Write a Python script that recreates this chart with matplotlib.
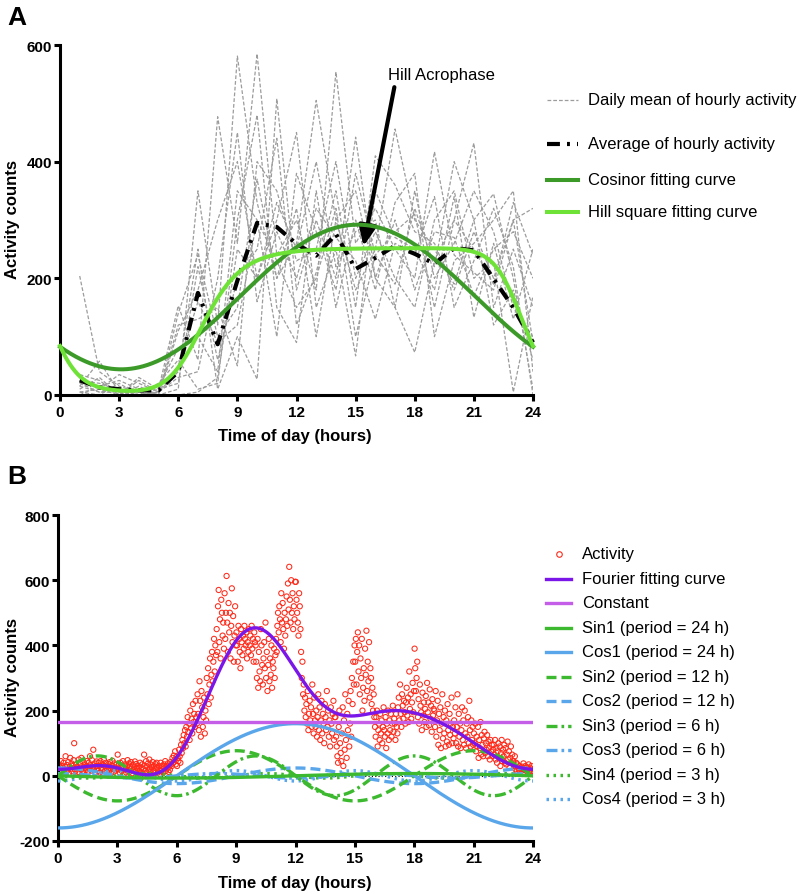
import numpy as np
import matplotlib
matplotlib.use("Agg")
import matplotlib.pyplot as plt
from matplotlib.lines import Line2D

plt.rcParams['font.family'] = ['Liberation Sans', 'DejaVu Sans']
plt.rcParams['axes.unicode_minus'] = False

# ---------------- panel A data ----------------
hours = np.arange(1, 25)

# daily mean of hourly activity, one list per day (hours 1..24)
daily_means = [
    [204, 40, 15, 5, 0, 10, 350, 120, 581, 330, 200, 260, 505, 300, 180, 250, 456, 300, 250, 190, 300, 345, 200, 10],
    [15, 58, 5, 0, 10, 153, 60, 477, 260, 585, 240, 300, 180, 554, 260, 320, 250, 200, 417, 240, 210, 180, 300, 90],
    [30, 10, 35, 20, 5, 40, 250, 10, 100, 27, 508, 180, 300, 200, 442, 200, 150, 73, 230, 300, 432, 150, 250, 150],
    [5, 0, 0, 15, 0, 110, 180, 300, 400, 200, 300, 450, 150, 250, 67, 350, 270, 250, 180, 340, 133, 260, 130, 250],
    [25, 20, 10, 0, 20, 60, 10, 20, 300, 480, 150, 90, 350, 150, 300, 180, 330, 380, 100, 230, 260, 300, 350, 40],
    [0, 15, 25, 10, 0, 120, 130, 150, 50, 400, 350, 230, 250, 400, 200, 280, 200, 150, 300, 350, 200, 230, 5, 170],
    [10, 30, 0, 30, 10, 20, 220, 60, 200, 250, 440, 120, 210, 350, 150, 410, 360, 280, 260, 180, 280, 200, 300, 320],
    [20, 5, 5, 5, 15, 80, 100, 40, 350, 300, 100, 380, 280, 180, 380, 240, 190, 320, 220, 400, 300, 120, 180, 60],
    [0, 0, 20, 0, 5, 30, 40, 200, 450, 160, 280, 200, 320, 270, 230, 130, 260, 240, 340, 150, 230, 320, 220, 0],
    [35, 25, 0, 10, 0, 140, 240, 100, 150, 370, 200, 320, 100, 300, 350, 200, 300, 180, 280, 270, 170, 250, 280, 200],
    [15, 5, 10, 0, 0, 0, 5, 30, 250, 200, 330, 250, 400, 220, 280, 300, 150, 350, 200, 260, 350, 280, 150, 100],
    [5, 10, 0, 25, 5, 50, 160, 90, 120, 300, 230, 150, 200, 320, 100, 240, 280, 310, 150, 300, 250, 190, 330, 240],
]

# average of hourly activity (hours 1..24)
hourly_average = [25, 13, 10, 8, 8, 40, 175, 87, 196, 295, 288, 259, 239, 276, 216, 235, 256, 242, 225, 252, 248, 199, 150, 90]

# cosinor fit parameters
cos_mesor, cos_amp, cos_acro = 168, 124, 15.1
# hill square fit parameters
hill_base, hill_top = 5, 252
hill_k_on, hill_n_on = 7.37, 7.7
hill_k_off, hill_n_off = 23.45, 32.6
acrophase_hill = (15.4, 255)

# ---------------- panel B data ----------------
# activity counts, 30 samples per hour (2-min bins)
act_00_06 = [
    20, 35, 10, 25, 45, 15, 30, 5, 40, 20, 28, 60, 12, 33, 18, 42, 8, 26, 55, 22, 38, 14, 30, 48, 100, 20, 15, 35, 27, 10,
    25, 50, 10, 38, 20, 55, 30, 15, 42, 8, 35, 25, 18, 45, 28, 12, 40, 22, 60, 32, 16, 48, 26, 80, 20, 38, 10, 30, 44, 22,
    15, 40, 30, 10, 45, 25, 20, 35, 5, 50, 30, 15, 40, 25, 10, 28, 36, 18, 42, 24, 8, 32, 46, 20, 12, 38, 26, 16, 34, 22,
    65, 20, 35, 10, 40, 25, 15, 30, 45, 5, 25, 35, 20, 10, 30, 48, 18, 38, 12, 28, 42, 22, 8, 34, 16, 26, 44, 14, 36, 24,
    20, 5, 30, 15, 40, 10, 25, 35, 8, 20, 65, 30, 15, 45, 10, 28, 38, 18, 50, 22, 12, 34, 26, 42, 16, 30, 8, 36, 24, 40,
    25, 10, 30, 20, 5, 40, 15, 30, 20, 10, 35, 25, 45, 15, 30, 22, 38, 12, 28, 18, 42, 35, 30, 55, 40, 62, 48, 75, 35, 58,
]
act_06_12 = [
    30, 55, 45, 80, 60, 40, 95, 70, 110, 85, 125, 100, 140, 90, 150, 120, 180, 135, 160, 110, 200, 145, 175, 130, 220, 165, 190, 150, 230, 180,
    160, 250, 190, 140, 290, 230, 120, 260, 210, 150, 180, 240, 130, 200, 170, 300, 250, 330, 220, 280, 360, 240, 310, 380, 290, 350, 420, 320, 400, 370,
    450, 380, 520, 570, 410, 480, 360, 540, 500, 430, 470, 390, 560, 420, 500, 613, 470, 380, 530, 440, 500, 360, 460, 575, 410, 490, 350, 430, 520, 400,
    440, 400, 350, 460, 420, 380, 330, 450, 410, 370, 430, 390, 460, 420, 400, 440, 360, 410, 380, 450, 400, 430, 370, 460, 390, 420, 350, 440, 410, 400,
    350, 300, 420, 270, 380, 320, 290, 450, 400, 340, 280, 360, 410, 330, 470, 300, 380, 260, 340, 420, 290, 360, 310, 400, 270, 350, 330, 390, 300, 370,
    420, 380, 460, 500, 440, 520, 480, 410, 560, 470, 530, 450, 390, 500, 430, 480, 550, 460, 590, 510, 641, 540, 470, 600, 500, 560, 450, 520, 480, 595,
]
act_12_18 = [
    595, 540, 500, 470, 430, 560, 520, 450, 380, 300, 350, 250, 280, 200, 240, 180, 220, 160, 260, 140, 190, 230, 170, 210, 150, 280, 190, 130, 240, 170,
    150, 200, 120, 180, 250, 140, 210, 110, 170, 230, 130, 190, 160, 100, 220, 180, 140, 260, 150, 200, 120, 170, 90, 210, 160, 130, 190, 230, 110, 180,
    180, 120, 90, 60, 40, 150, 200, 100, 70, 45, 130, 210, 30, 170, 80, 250, 110, 55, 190, 140, 230, 90, 160, 260, 120, 300, 220, 350, 280, 400,
    350, 420, 280, 380, 440, 320, 400, 250, 360, 300, 420, 200, 270, 330, 230, 390, 310, 445, 260, 350, 290, 410, 240, 330, 300, 220, 270, 200, 250, 180,
    150, 120, 180, 200, 90, 140, 160, 110, 190, 130, 170, 100, 150, 210, 140, 120, 180, 85, 160, 130, 200, 110, 170, 140, 190, 120, 160, 215, 135, 175,
    160, 110, 190, 150, 130, 210, 240, 170, 280, 190, 150, 250, 215, 175, 230, 195, 160, 225, 270, 185, 240, 165, 320, 205, 250, 175, 225, 285, 195, 260,
]
act_18_24 = [
    390, 330, 260, 300, 350, 180, 235, 160, 280, 215, 195, 140, 255, 185, 225, 165, 205, 245, 150, 285, 195, 225, 155, 265, 175, 215, 135, 235, 185, 205,
    200, 150, 260, 120, 170, 230, 95, 190, 140, 210, 85, 160, 250, 115, 180, 130, 200, 90, 170, 105, 220, 140, 95, 190, 125, 160, 240, 100, 150, 115,
    170, 130, 210, 100, 150, 250, 90, 190, 120, 160, 85, 140, 210, 110, 170, 95, 200, 130, 85, 160, 120, 180, 100, 230, 140, 90, 170, 110, 150, 95,
    130, 100, 160, 75, 120, 90, 150, 55, 110, 85, 165, 65, 125, 95, 60, 115, 135, 70, 100, 80, 125, 60, 105, 85, 50, 110, 75, 95, 60, 80,
    95, 65, 110, 50, 85, 40, 75, 100, 55, 90, 30, 70, 110, 45, 80, 60, 95, 40, 85, 35, 65, 105, 50, 75, 25, 55, 90, 40, 65, 45,
    45, 30, 60, 20, 40, 15, 35, 25, 18, 30, 10, 22, 15, 28, 20, 38, 24, 8, 30, 16, 26, 12, 22, 35, 14, 25, 10, 30, 15, 20,
]

# fourier fit coefficients, harmonic n has period 24/n hours
four_const = 165
four_sin = [-7, -77, 61, -7]
four_cos = [-160, 24, 7, -16]
sin_labels = ["Sin1 (period = 24 h)", "Sin2 (period = 12 h)", "Sin3 (period = 6 h)", "Sin4 (period = 3 h)"]
cos_labels = ["Cos1 (period = 24 h)", "Cos2 (period = 12 h)", "Cos3 (period = 6 h)", "Cos4 (period = 3 h)"]

# ---------------- figure ----------------
W, H = 805, 895
fig = plt.figure(figsize=(W / 100, H / 100), dpi=100)


def px_axes(l, t, r, b):
    return fig.add_axes([l / W, 1 - b / H, (r - l) / W, (b - t) / H])


def fx(x):
    return x / W


def fy(y):
    return 1 - y / H


def prism(ax):
    for s in ["top", "right"]:
        ax.spines[s].set_visible(False)
    for s in ["left", "bottom"]:
        ax.spines[s].set_linewidth(2.2)
    ax.tick_params(direction="out", length=4.5, width=2.2, labelsize=11)
    ax.tick_params(axis="x", pad=3)
    ax.tick_params(axis="y", pad=1)
    for lab in ax.get_xticklabels() + ax.get_yticklabels():
        lab.set_fontweight("bold")


GRAY = "#9c9c9c"
DKGREEN = "#3c9a28"
LTGREEN = "#6ee236"
PURPLE = "#7b16e8"
MAGENTA = "#c45ee8"
GREEN = "#3cb92e"
BLUE = "#5aa6ea"
RED = "#ff2a1a"

gray_ls = (0, (3, 1.6))
avg_ls = (0, (3.1, 1.7, 0.7, 1.7))

# ---- panel A ----
axA = px_axes(60, 46, 533, 396)
for d in daily_means:
    axA.plot(hours, d, color=GRAY, lw=0.9, ls=gray_ls, zorder=1)
axA.plot(hours, hourly_average, color="black", lw=3, ls=avg_ls, zorder=3, clip_on=False)

t = np.linspace(0, 24, 600)
cosinor = cos_mesor + cos_amp * np.cos(2 * np.pi * (t - cos_acro) / 24)
axA.plot(t, cosinor, color=DKGREEN, lw=2.9, zorder=4, clip_on=False)

rise = t ** hill_n_on / (hill_k_on ** hill_n_on + t ** hill_n_on)
fall = 1 / (1 + (t / hill_k_off) ** hill_n_off)
fall_prev = 1 / (1 + ((t + 24) / hill_k_off) ** hill_n_off)
hill = hill_base + (hill_top - hill_base) * (rise * fall + fall_prev)
axA.plot(t, hill, color=LTGREEN, lw=2.9, zorder=5, clip_on=False)

axA.annotate("Hill Acrophase", xy=acrophase_hill, xytext=(16.64, 550),
             fontsize=12, ha="left", va="center",
             arrowprops=dict(arrowstyle="-|>,head_length=0.8,head_width=0.35",
                             color="black", lw=3, mutation_scale=15,
                             relpos=(0.07, 0), shrinkA=2, shrinkB=0))

axA.set_xlim(0, 24)
axA.set_ylim(0, 600)
axA.set_xticks(range(0, 25, 3))
axA.set_yticks(range(0, 601, 200))
prism(axA)

# legend A
legA = [
    ("Daily mean of hourly activity", dict(color=GRAY, lw=0.9, ls=gray_ls), 101),
    ("Average of hourly activity", dict(color="black", lw=3, ls=avg_ls), 145),
    ("Cosinor fitting curve", dict(color=DKGREEN, lw=2.9), 181),
    ("Hill square fitting curve", dict(color=LTGREEN, lw=2.9), 213),
]
for label, style, yy in legA:
    fig.add_artist(Line2D([fx(547), fx(578)], [fy(yy), fy(yy)], transform=fig.transFigure, **style))
    fig.text(fx(588), fy(yy), label, fontsize=12, va="center", ha="left")

# ---- panel B ----
axB = px_axes(58, 516, 533, 842)
activity = np.array(act_00_06 + act_06_12 + act_12_18 + act_18_24)
t_act = np.arange(len(activity)) * 24 / len(activity) + 1 / 60
axB.scatter(t_act, activity, s=14, facecolors="none", edgecolors=RED, linewidths=0.75, zorder=2)

axB.axhline(0, color="black", lw=0.8, ls=(0, (1, 2)), zorder=1)

sin_styles = ["-", (0, (3.0, 1.5)), (0, (3.3, 1.2, 0.8, 1.2)), (0, (0.75, 1.35))]
w = 2 * np.pi * t / 24
fourier = np.full_like(t, four_const, dtype=float)
comp = []
for n in range(4):
    s_curve = four_sin[n] * np.sin((n + 1) * w)
    c_curve = four_cos[n] * np.cos((n + 1) * w)
    fourier += s_curve + c_curve
    comp.append((s_curve, c_curve))
for n in range(3, -1, -1):
    s_curve, c_curve = comp[n]
    axB.plot(t, c_curve, color=BLUE, lw=2.4, ls=sin_styles[n], zorder=3)
    axB.plot(t, s_curve, color=GREEN, lw=2.4, ls=sin_styles[n], zorder=3)
axB.plot(t, np.full_like(t, four_const), color=MAGENTA, lw=2.4, zorder=4)
axB.plot(t, fourier, color=PURPLE, lw=2.4, zorder=5)

axB.set_xlim(0, 24)
axB.set_ylim(-200, 800)
axB.set_xticks(range(0, 25, 3))
axB.set_yticks(range(-200, 801, 200))
prism(axB)

# legend B
y0, dy = 555, 24.5
fig.add_artist(Line2D([fx(558.5)], [fy(y0)], transform=fig.transFigure, marker="o", ms=4,
                      mfc="none", mec=RED, mew=0.8, ls="none"))
fig.text(fx(582), fy(y0), "Activity", fontsize=12, va="center", ha="left")
legB = [("Fourier fitting curve", dict(color=PURPLE, lw=2.4)),
        ("Constant", dict(color=MAGENTA, lw=2.4))]
for n in range(4):
    legB.append((sin_labels[n], dict(color=GREEN, lw=2.4, ls=sin_styles[n])))
    legB.append((cos_labels[n], dict(color=BLUE, lw=2.4, ls=sin_styles[n])))
for i, (label, style) in enumerate(legB):
    yy = y0 + dy * (i + 1)
    fig.add_artist(Line2D([fx(546), fx(571)], [fy(yy), fy(yy)], transform=fig.transFigure, **style))
    fig.text(fx(582), fy(yy), label, fontsize=12, va="center", ha="left")

# axis titles and panel letters
for yc in (220, 678):
    fig.text(fx(13), fy(yc), "Activity counts", rotation=90, fontsize=12, fontweight="bold",
             ha="center", va="center")
fig.text(fx(295), fy(437), "Time of day (hours)", fontsize=12, fontweight="bold", ha="center", va="center")
fig.text(fx(295), fy(884), "Time of day (hours)", fontsize=12, fontweight="bold", ha="center", va="center")
fig.text(fx(17), fy(18), "A", fontsize=19, fontweight="bold", ha="center", va="center")
fig.text(fx(17), fy(477), "B", fontsize=19, fontweight="bold", ha="center", va="center")

fig.savefig("out.png", dpi=100)
